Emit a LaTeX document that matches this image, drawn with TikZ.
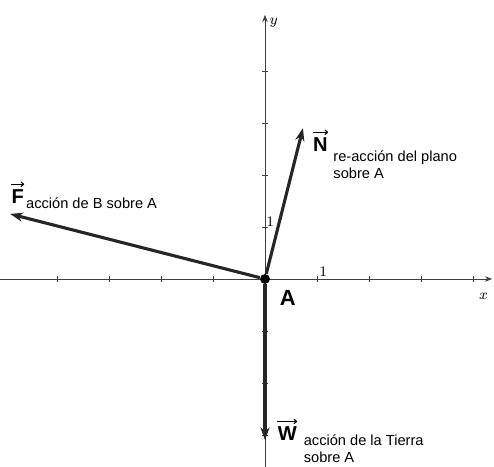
\documentclass[tikz,border=0pt]{standalone}
\usepackage{amsmath}
\usepackage{fontspec}
\setmainfont{Liberation Sans}
\usetikzlibrary{arrows.meta,positioning}

\tikzset{
  axis/.style={line width=0.4pt, black!75, -{Stealth[length=4pt,width=3pt]}},
  vector/.style={line width=1.7pt, black!85, -{Stealth[length=7pt,width=5pt]}},
  overarrow/.style={line width=0.6pt, -{To[length=2pt,width=3pt]}},
  letter/.style={font=\bfseries\fontsize{11}{13}\selectfont, inner sep=0pt},
  subtext/.style={font=\fontsize{8}{9.6}\selectfont, align=left, inner sep=0pt},
  ticklab/.style={font=\footnotesize, inner sep=1pt},
}

\begin{document}
\begin{tikzpicture}
  \useasboundingbox (-5.096,-3.615) rectangle (4.404,5.365);
  \coordinate (xmin) at (-5.1,0);
  \coordinate (xmax) at (4.37,0);
  \coordinate (ymin) at (0,-3.62);
  \coordinate (ymax) at (0,5.08);
  \draw[axis] (xmin) -- (xmax);
  \draw[axis] (ymin) -- (ymax);
  \node[ticklab] (xlab) at (4.2,-0.33) {$x$};
  \node[ticklab] (ylab) at (0.17,4.92) {$y$};
  \foreach \i in {-4,...,-1,1,2,3,4} {
    \draw[black!75] (\i,0.05) -- (\i,-0.05);
  }
  \foreach \i in {-3,...,-1,1,2,3,4} {
    \draw[black!75] (0.05,\i) -- (-0.05,\i);
  }
  \node[ticklab] (one x) at (1.12,0.14) {$1$};
  \node[ticklab] (one y) at (0.1,1.1) {$1$};

  % vectors
  \node[circle, fill=black, inner sep=0pt, minimum size=0.19cm] (A) at (0,0) {};
  \coordinate (Ntip) at (0.73,2.9);
  \coordinate (Ftip) at (-4.9,1.25);
  \coordinate (Wtip) at (0,-3.1);
  \draw[vector] (A) -- (Ntip);
  \draw[vector] (A) -- (Ftip);
  \draw[vector] (A) -- (Wtip);
  \node[font=\bfseries\fontsize{12}{14}\selectfont] (Alab) at (0.44,-0.36) {A};

  % labels
  \node[letter, anchor=base west] (nN) at (0.92,2.46) {N};
  \node[subtext, anchor=north west] (tN) at (1.31,2.48) {re-acción del plano\\sobre A};
  \node[letter, anchor=base west] (nF) at (-4.88,1.46) {F};
  \node[subtext, anchor=north west] (tF) at (-4.6,1.56) {acción de B sobre A};
  \node[letter, anchor=base west] (nW) at (0.24,-3.1) {W};
  \node[subtext, anchor=north west] (tW) at (0.74,-2.98) {acción de la Tierra\\sobre A};
  \foreach \v in {nN,nF,nW}
    \draw[overarrow] ([yshift=2.5pt]\v.north west) -- ([yshift=2.5pt]\v.north east);
\end{tikzpicture}
\end{document}
